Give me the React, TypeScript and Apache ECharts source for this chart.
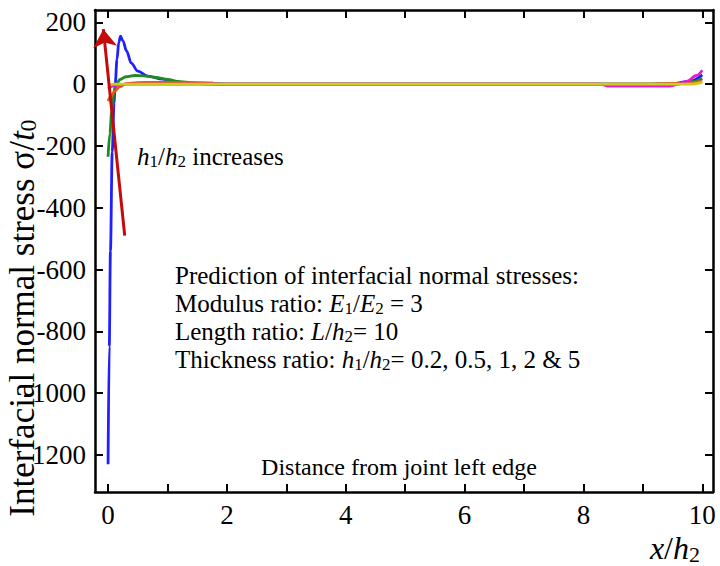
import React, { useEffect, useRef } from "react";
import * as echarts from "echarts";

// Axis ticks / labels
const xTickValues = [0, 1, 2, 3, 4, 5, 6, 7, 8, 9, 10];
const xLabelValues = [0, 2, 4, 6, 8, 10];
const yTickValues = [200, 0, -200, -400, -600, -800, -1000, -1200];

// Curves (x/h2, sigma/t0) for h1/h2 = 0.2, 0.5, 1, 2, 5
const curveBlue: [number, number][] = [
  [0, -1230], [0.02, -850], [0.04, -540], [0.07, -220], [0.1, -60], [0.12, 0],
  [0.15, 80], [0.18, 135], [0.21, 155], [0.25, 140], [0.31, 108], [0.39, 68],
  [0.5, 42], [0.67, 26], [0.92, 16], [1.1, 9], [1.3, 4], [1.6, 1], [2, 0],
  [9, 0], [9.5, 2], [9.8, 10], [10, 30],
];
const curveGreen: [number, number][] = [
  [0, -235], [0.03, -160], [0.06, -90], [0.1, -30], [0.14, 0], [0.2, 15],
  [0.3, 24], [0.45, 28], [0.6, 27], [0.8, 22], [1.0, 15], [1.2, 8], [1.5, 3],
  [2, 0], [9, 0], [9.6, 2], [9.85, 8], [10, 18],
];
const curveRed: [number, number][] = [
  [0, -55], [0.05, -40], [0.1, -25], [0.2, -8], [0.3, 2], [0.5, 5], [0.8, 6],
  [1.2, 5], [1.75, 4], [1.8, 0], [9, 0], [9.7, 3], [10, 10],
];
const curveMagenta: [number, number][] = [
  [0, -15], [0.1, -5], [0.3, 0], [8.3, 0], [8.4, -6], [9.45, -6], [9.6, 0],
  [9.75, 10], [9.9, 28], [10, 45],
];
const curveYellow: [number, number][] = [
  [0, -5], [0.1, 0], [9.8, 0], [10, 6],
];

// Annotation arrow (tail -> head), data coordinates
const arrowCoords: [number, number][] = [[0.28, -490], [-0.08, 178]];

const FONT = "Liberation Serif";

export default function App() {
  const ref = useRef<HTMLDivElement>(null);
  useEffect(() => {
    const chart = echarts.init(ref.current!, null, { renderer: "svg" });
    const axisLineStyle = { color: "#000", width: 2.5 };
    const tickStyle = { color: "#000", width: 2 };
    const plain = (v: number) => String(v);
    const mkSeries = (name: string, data: [number, number][], color: string) => ({
      name,
      type: "line",
      data,
      showSymbol: false,
      smooth: 0.35,
      smoothMonotone: "x",
      lineStyle: { color, width: 2.8 },
      z: 3,
    });
    const sub = { fontSize: 17, fontFamily: FONT, verticalAlign: "bottom", lineHeight: 12 };
    const ital = { fontStyle: "italic", fontFamily: FONT };
    const xBase = {
      type: "value",
      min: -0.22,
      max: 10.18,
      splitLine: { show: false },
    };
    const yBase = {
      type: "value",
      min: -1320,
      max: 240,
      splitLine: { show: false },
    };
    chart.setOption({
      animation: false,
      backgroundColor: "#fff",
      grid: { left: 95, right: 7, top: 10, bottom: 74 },
      xAxis: [
        {
          ...xBase,
          position: "bottom",
          axisLine: { show: true, onZero: false, lineStyle: axisLineStyle },
          axisTick: { show: true, inside: true, length: 8, customValues: xTickValues, lineStyle: tickStyle },
          axisLabel: { customValues: xLabelValues, formatter: plain, fontFamily: FONT, fontSize: 27, color: "#000", margin: 9 },
        },
        {
          ...xBase,
          position: "top",
          axisLine: { show: true, onZero: false, lineStyle: axisLineStyle },
          axisTick: { show: true, inside: true, length: 8, customValues: xTickValues, lineStyle: tickStyle },
          axisLabel: { show: false },
        },
      ],
      yAxis: [
        {
          ...yBase,
          position: "left",
          axisLine: { show: true, onZero: false, lineStyle: axisLineStyle },
          axisTick: { show: true, inside: true, length: 8, customValues: yTickValues, lineStyle: tickStyle },
          axisLabel: { customValues: yTickValues, formatter: plain, fontFamily: FONT, fontSize: 27, color: "#000", margin: 9 },
        },
        {
          ...yBase,
          position: "right",
          axisLine: { show: true, onZero: false, lineStyle: axisLineStyle },
          axisTick: { show: true, inside: true, length: 8, customValues: yTickValues, lineStyle: tickStyle },
          axisLabel: { show: false },
        },
      ],
      series: [
        mkSeries("h1/h2=0.2", curveBlue, "#1f1fff"),
        mkSeries("h1/h2=0.5", curveGreen, "#1e8c1e"),
        mkSeries("h1/h2=1", curveRed, "#e8561e"),
        mkSeries("h1/h2=2", curveMagenta, "#e020d0"),
        mkSeries("h1/h2=5", curveYellow, "#cccc1a"),
        {
          type: "lines",
          coordinateSystem: "cartesian2d",
          data: [{ coords: arrowCoords }],
          symbol: ["none", "arrow"],
          symbolSize: [12, 18],
          lineStyle: { color: "#c40a0a", width: 3, opacity: 1 },
          z: 5,
        },
      ],
      graphic: [
        {
          type: "text",
          x: 22,
          y: 318,
          rotation: Math.PI / 2,
          style: {
            text: "Interfacial normal stress σ/{i|t}{s|0}",
            fontFamily: FONT,
            fontSize: 35,
            fill: "#000",
            align: "center",
            verticalAlign: "middle",
            rich: {
              i: { ...ital, fontSize: 35 },
              s: { fontSize: 24, fontFamily: FONT, verticalAlign: "bottom", lineHeight: 16 },
            },
          },
        },
        {
          type: "text",
          x: 137,
          y: 156,
          style: {
            text: "{i|h}{s|1}/{i|h}{s|2} increases",
            fontFamily: FONT,
            fontSize: 25,
            lineHeight: 28,
            fill: "#000",
            align: "left",
            verticalAlign: "middle",
            rich: { i: { ...ital, fontSize: 25, lineHeight: 28 }, s: sub },
          },
        },
        {
          type: "text",
          x: 175,
          y: 261,
          style: {
            text:
              "Prediction of interfacial normal stresses:\n" +
              "Modulus ratio: {i|E}{s|1}/{i|E}{s|2} = 3\n" +
              "Length ratio: {i|L}/{i|h}{s|2}= 10\n" +
              "Thickness ratio: {i|h}{s|1}/{i|h}{s|2}= 0.2, 0.5, 1, 2 & 5",
            fontFamily: FONT,
            fontSize: 25,
            lineHeight: 28,
            fill: "#000",
            align: "left",
            verticalAlign: "top",
            rich: { i: { ...ital, fontSize: 25, lineHeight: 28 }, s: sub },
          },
        },
        {
          type: "text",
          x: 399,
          y: 467,
          style: {
            text: "Distance from joint left edge",
            fontFamily: FONT,
            fontSize: 24,
            fill: "#000",
            align: "center",
            verticalAlign: "middle",
          },
        },
        {
          type: "text",
          x: 700,
          y: 548,
          style: {
            text: "{i|x}/{i|h}{s|2}",
            fontFamily: FONT,
            fontSize: 32,
            lineHeight: 34,
            fill: "#000",
            align: "right",
            verticalAlign: "middle",
            rich: {
              i: { ...ital, fontSize: 32, lineHeight: 34 },
              s: { fontSize: 22, fontFamily: FONT, verticalAlign: "bottom", lineHeight: 14 },
            },
          },
        },
      ],
    });
    return () => chart.dispose();
  }, []);
  return <div ref={ref} style={{ position: "fixed", left: 0, top: 0, width: 720, height: 566 }} />;
}
